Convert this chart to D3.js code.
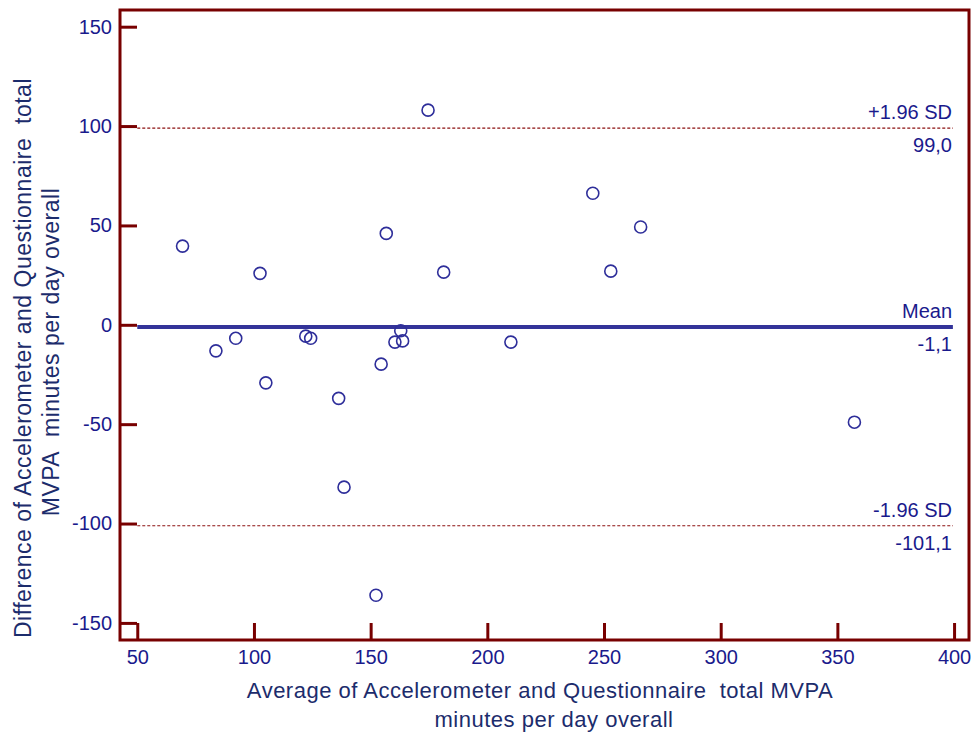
<!DOCTYPE html>
<html>
<head>
<meta charset="utf-8">
<script src="https://cdn.jsdelivr.net/npm/d3@7"></script>
<style>
  body { margin: 0; background: #fff; }
  svg { display: block; font-family: "Liberation Sans", Arial, sans-serif; }
</style>
</head>
<body>
<div id="chart"></div>
<script>
// average of the two methods (x) and their difference (y)
const avgValues = [69.4, 83.7, 92.2, 102.6, 105.1, 122.2, 124.3, 136.3, 138.6, 152.3, 154.5,
  156.7, 160.4, 162.9, 163.7, 174.6, 181.3, 210.1, 245.2, 252.9, 265.7, 357.3];
const diffValues = [39.6, -13.1, -6.8, 25.9, -29.2, -5.7, -6.8, -37.0, -81.7, -136.1, -19.8,
  46.0, -8.7, -3.0, -8.1, 108.0, 26.5, -8.7, 66.2, 27.0, 49.2, -49.0];

const xTicks = [50, 100, 150, 200, 250, 300, 350, 400];
const yTicks = [-150, -100, -50, 0, 50, 100, 150];

// reference lines: value, label above, label below
const refLines = [
  { value: 99.0, name: '+1.96 SD', text: '99,0', kind: 'sd' },
  { value: -1.1, name: 'Mean', text: '-1,1', kind: 'mean' },
  { value: -101.1, name: '-1.96 SD', text: '-101,1', kind: 'sd' }
];

const width = 971, height = 733;
const frame = { left: 120, top: 10, right: 969, bottom: 640 };
const AXIS = '#780000';
const LABEL = '#1a1a8c';
const TITLE = '#1c2c6c';

const svg = d3.select('#chart').append('svg')
  .attr('width', width)
  .attr('height', height);

const x = d3.scaleLinear().domain([42.6, 406.4]).range([frame.left, frame.right]);
const y = d3.scaleLinear().domain([-158.6, 158.4]).range([frame.bottom, frame.top]);

// reference lines
refLines.forEach(r => {
  svg.append('line')
    .attr('x1', x(50)).attr('x2', x(399.5))
    .attr('y1', y(r.value)).attr('y2', y(r.value))
    .attr('stroke', r.kind === 'mean' ? '#333399' : '#8c1010')
    .attr('stroke-width', r.kind === 'mean' ? 4 : 1.2)
    .attr('stroke-dasharray', r.kind === 'mean' ? null : '3,2');

  svg.append('text')
    .attr('x', 952).attr('y', y(r.value) - 9)
    .attr('text-anchor', 'end')
    .attr('font-size', 20)
    .attr('fill', LABEL)
    .text(r.name);

  svg.append('text')
    .attr('x', 952).attr('y', y(r.value) + 24)
    .attr('text-anchor', 'end')
    .attr('font-size', 20)
    .attr('fill', LABEL)
    .text(r.text);
});

// points
svg.selectAll('.pt')
  .data(avgValues.map((v, i) => [v, diffValues[i]]))
  .join('circle')
  .attr('class', 'pt')
  .attr('cx', d => x(d[0]))
  .attr('cy', d => y(d[1]))
  .attr('r', 6)
  .attr('fill', 'none')
  .attr('stroke', '#2e2e9a')
  .attr('stroke-width', 1.6);

// axes with inward ticks
const yAxis = svg.append('g')
  .attr('transform', `translate(${frame.left},0)`)
  .call(d3.axisLeft(y).tickValues(yTicks).tickSize(-17).tickPadding(8).tickFormat(d => String(d)));

const xAxis = svg.append('g')
  .attr('transform', `translate(0,${frame.bottom})`)
  .call(d3.axisBottom(x).tickValues(xTicks).tickSize(-17).tickPadding(10).tickFormat(d => String(d)));

[xAxis, yAxis].forEach(g => {
  g.select('.domain').remove();
  g.selectAll('.tick line').attr('stroke', AXIS).attr('stroke-width', 3);
  g.selectAll('.tick text')
    .attr('fill', LABEL)
    .attr('font-size', 20)
    .attr('font-family', '"Liberation Sans", Arial, sans-serif');
});

// frame
svg.append('rect')
  .attr('x', frame.left).attr('y', frame.top)
  .attr('width', frame.right - frame.left)
  .attr('height', frame.bottom - frame.top)
  .attr('fill', 'none')
  .attr('stroke', AXIS)
  .attr('stroke-width', 3);

// axis titles
const xTitle = svg.append('text')
  .attr('text-anchor', 'middle')
  .attr('font-size', 22)
  .attr('letter-spacing', 0.5)
  .attr('fill', TITLE);
xTitle.append('tspan').attr('x', 540).attr('y', 698).text('Average of Accelerometer and Questionnaire\u00a0 total MVPA');
xTitle.append('tspan').attr('x', 554).attr('y', 727).text('minutes per day overall');

const yTitle = svg.append('text')
  .attr('text-anchor', 'middle')
  .attr('font-size', 23)
  .attr('letter-spacing', 0.5)
  .attr('fill', TITLE)
  .attr('transform', 'rotate(-90)');
yTitle.append('tspan').attr('x', -358).attr('y', 31).text('Difference of Accelerometer and Questionnaire\u00a0 total');
yTitle.append('tspan').attr('x', -352).attr('y', 59).text('MVPA\u00a0 minutes per day overall');
</script>
</body>
</html>
